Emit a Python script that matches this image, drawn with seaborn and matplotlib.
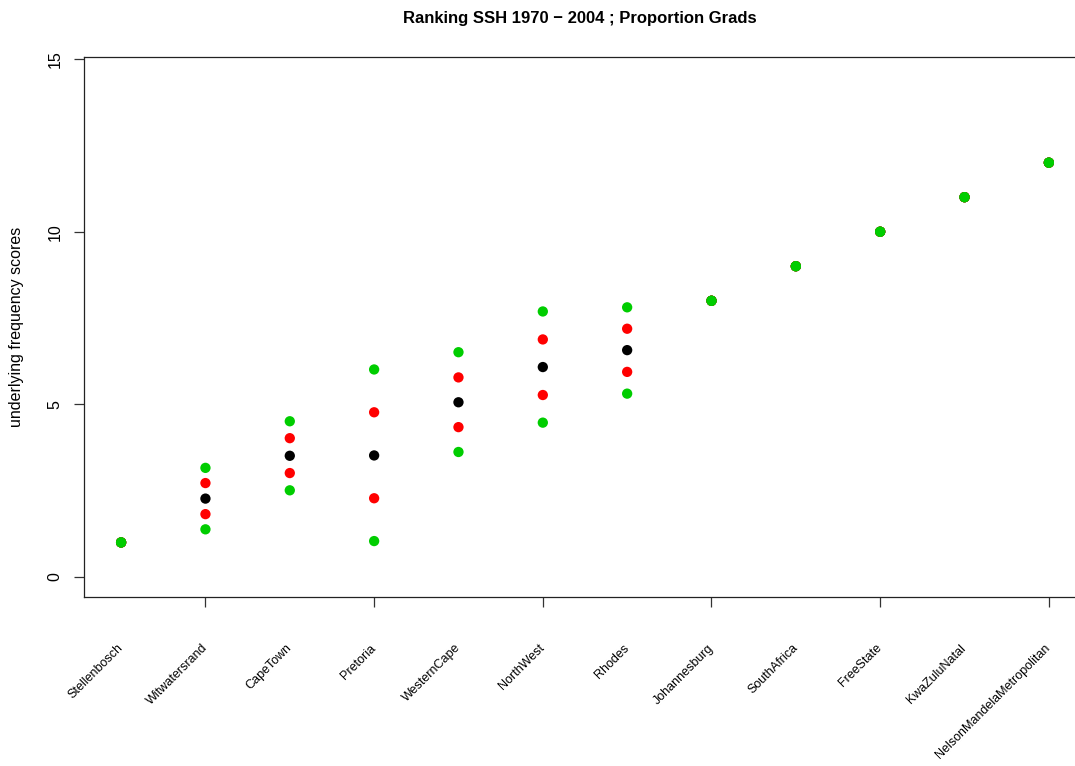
import numpy as np
import pandas as pd
import matplotlib
matplotlib.use("Agg")
import matplotlib.pyplot as plt
import matplotlib.transforms as mtransforms
import seaborn as sns

sns.set_style("ticks")
plt.rcParams["font.family"] = ["Liberation Sans", "DejaVu Sans"]
plt.rcParams.update({"text.color": "black", "axes.labelcolor": "black",
                     "xtick.color": "black", "ytick.color": "black"})

# ── data ─────────────────────────────────────────────────────────────────────
categories = ["Stellenbosch", "Witwatersrand", "CapeTown", "Pretoria",
              "WesternCape", "NorthWest", "Rhodes", "Johannesburg",
              "SouthAfrica", "FreeState", "KwaZuluNatal",
              "NelsonMandelaMetropolitan"]
center     = [1, 2.27, 3.51, 3.52, 5.06, 6.08, 6.57, 8, 9, 10, 11, 12]
low_inner  = [1, 1.82, 3.01, 2.28, 4.34, 5.27, 5.94, 8, 9, 10, 11, 12]
high_inner = [1, 2.72, 4.02, 4.77, 5.78, 6.88, 7.19, 8, 9, 10, 11, 12]
low_outer  = [1, 1.38, 2.51, 1.04, 3.62, 4.47, 5.31, 8, 9, 10, 11, 12]
high_outer = [1, 3.16, 4.51, 6.01, 6.51, 7.69, 7.81, 8, 9, 10, 11, 12]
y_ticks = [0, 5, 10, 15]
x_ticks = [2, 4, 6, 8, 10, 12]

pos = np.arange(1, len(categories) + 1)
frames = []
for vals, band in [(center, "mid"), (low_inner, "inner"), (high_inner, "inner"),
                   (low_outer, "outer"), (high_outer, "outer")]:
    frames.append(pd.DataFrame({"x": pos, "score": vals, "band": band}))
df = pd.concat(frames, ignore_index=True)

palette = {"mid": "#000000", "inner": "#FF0000", "outer": "#00CD00"}

fig = plt.figure(figsize=(10.75, 7.66), dpi=100)
ax = fig.add_axes([84 / 1075, 169 / 766, 991 / 1075, 540 / 766])

sns.scatterplot(data=df, x="x", y="score", hue="band", palette=palette,
                s=55, linewidth=0, legend=False, ax=ax)

ax.set_xlim(0.56, 12.31)
ax.set_ylim(-0.58, 15.06)
ax.set_xticks(x_ticks)
ax.set_xticklabels([])
ax.set_yticks(y_ticks)
ax.set_yticklabels([str(t) for t in y_ticks], rotation=90, va="center", fontsize=11.5)
ax.tick_params(axis="y", length=7, width=0.9, pad=8.5, color="#333333")
ax.tick_params(axis="x", length=7, width=0.9, color="#333333")
ax.set_xlabel("")
ax.set_ylabel("underlying frequency scores", fontsize=11.5, labelpad=17)
ax.spines["right"].set_visible(False)
for side in ["left", "bottom", "top"]:
    ax.spines[side].set_linewidth(0.9)
    ax.spines[side].set_color("#222222")

# rotated category labels, anchored at their top-right corner
trans = mtransforms.blended_transform_factory(ax.transData, fig.transFigure)
for x, name in zip(pos, categories):
    ax.text(x + 0.05, (766 - 642) / 766, name, rotation=45, ha="right", va="top",
            fontsize=9, transform=trans, clip_on=False)

fig.text(579.5 / 1075, 1 - 18 / 766, "Ranking SSH 1970 \u2212 2004 ; Proportion Grads",
         ha="center", va="center", fontsize=12, fontweight="bold")

fig.savefig("out.png", dpi=100)
